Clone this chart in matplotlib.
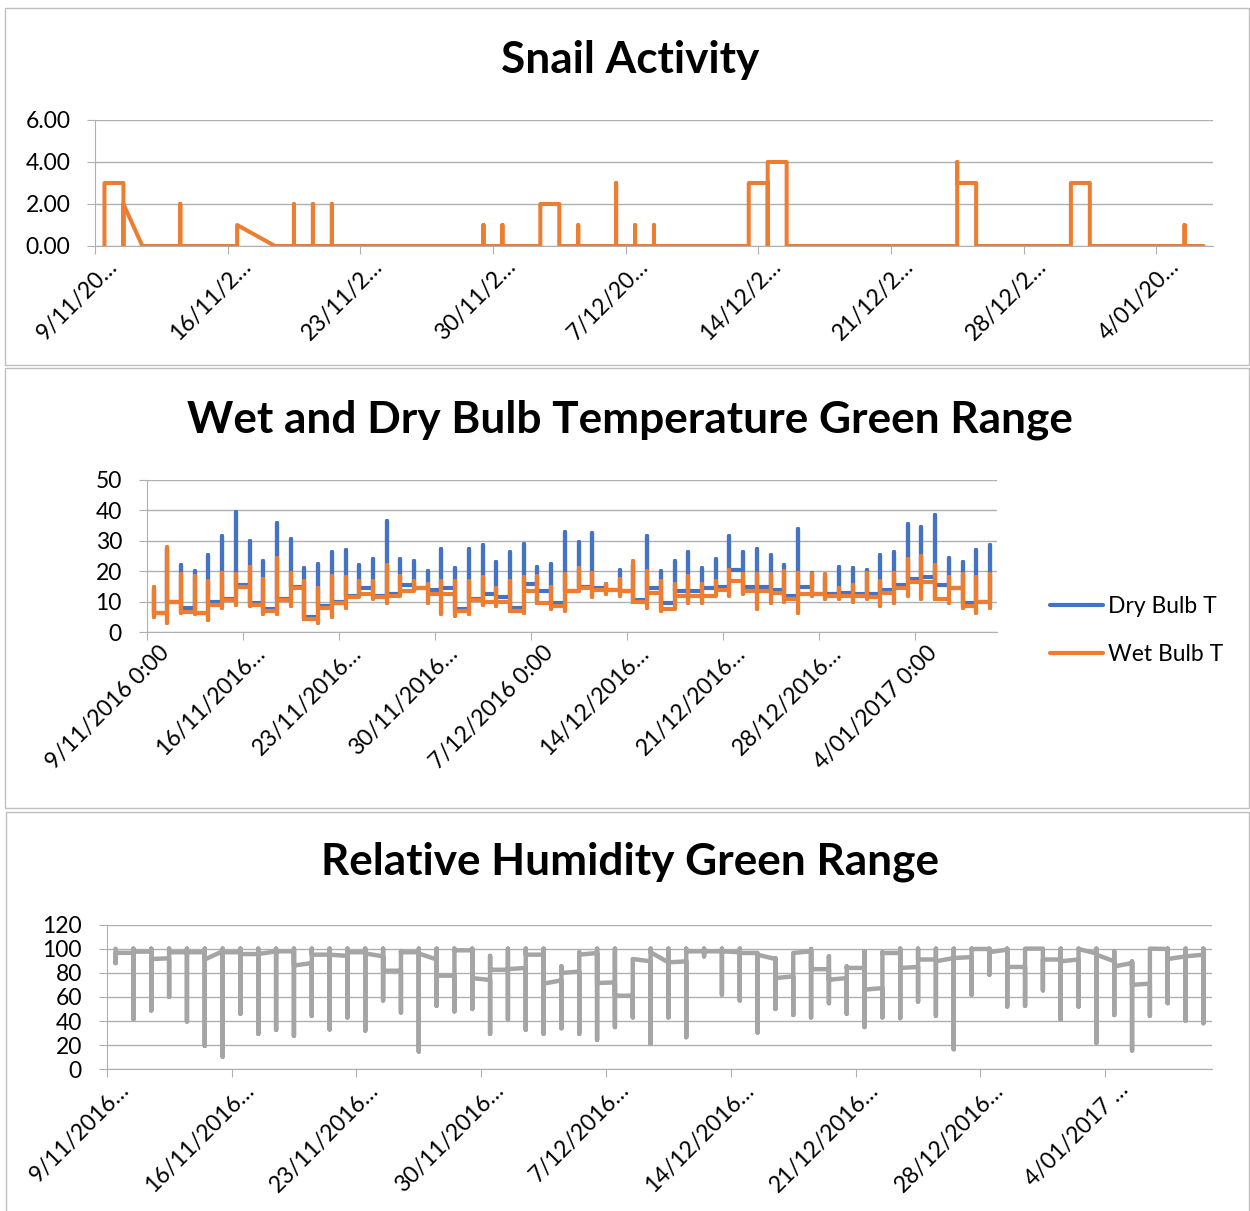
import numpy as np
import matplotlib.pyplot as plt
from matplotlib.patches import Rectangle
from matplotlib.transforms import ScaledTranslation

plt.rcParams['font.family'] = ['Lato', 'DejaVu Sans']

ORANGE = '#ED7D31'
BLUE = '#4472C4'
GREY = '#A5A5A5'
GRID = '#B0B0B0'
W, H = 1250, 1211

# snail counts: several readings per day, day 0 = 9/11/2016
snail_day = [0, 0, 1, 1, 1, 2, 3, 4, 4, 4, 5, 6, 7, 7, 9,
             10, 10, 10, 11, 11, 11, 12, 12, 12, 13, 14, 15, 16, 17, 18, 19,
             20, 20, 20, 21, 21, 21, 22, 23, 23, 24, 24, 25, 25, 25, 26,
             27, 27, 27, 28, 28, 28, 29, 29, 29, 30, 31, 32, 33, 34, 34,
             35, 35, 35, 36, 36, 37, 38, 39, 40, 41, 42, 43, 44, 45, 45, 45,
             46, 46, 47, 48, 49, 50, 51, 51, 52, 52, 53, 54, 55, 56, 57, 57, 57, 58]
snail_count = [0, 3, 3, 0, 2, 0, 0, 0, 2, 0, 0, 0, 0, 1, 0,
               0, 2, 0, 0, 2, 0, 0, 2, 0, 0, 0, 0, 0, 0, 0, 0,
               0, 1, 0, 0, 1, 0, 0, 0, 2, 2, 0, 0, 1, 0, 0,
               0, 3, 0, 0, 1, 0, 0, 1, 0, 0, 0, 0, 0, 0, 3,
               3, 0, 4, 4, 0, 0, 0, 0, 0, 0, 0, 0, 0, 0, 4, 3,
               3, 0, 0, 0, 0, 0, 0, 3, 3, 0, 0, 0, 0, 0, 0, 1, 0, 0]
snail_labels = ['9/11/20…', '16/11/2…', '23/11/2…', '30/11/2…', '7/12/20…',
                '14/12/2…', '21/12/2…', '28/12/2…', '4/01/20…']

# daily temperatures (deg C), one entry per day from 9/11/2016
dry_max = [14, 27.5, 22, 20, 25.5, 31.5, 39.5, 30, 23.5, 36,
           30.5, 21, 22.5, 26.5, 27, 22, 24, 36.5, 24, 23.5,
           20, 27.5, 21, 27.5, 28.5, 23, 26.5, 29, 21.5, 22.5,
           33, 29.5, 32.5, 16, 20.5, 22, 31.5, 20, 23.5, 26.5,
           21, 24, 31.5, 26.5, 27.5, 25.5, 22, 34, 19.5, 18,
           21.5, 21, 20.5, 25.5, 26.5, 35.5, 34.5, 38.5, 24.5, 23,
           27, 28.5]
dry_end = [6.5, 10, 8, 6.5, 10, 11, 15.5, 9.5, 7.5, 11,
           15, 5, 8.5, 10, 12, 14.5, 12, 12.5, 15.5, 14.5,
           14, 14.5, 7.5, 11, 12.5, 11.5, 8, 16, 13.5, 9.5,
           13.5, 15, 14.5, 14, 13.5, 10.5, 14.5, 9.5, 13.5, 13.5,
           14.5, 15, 20.5, 15, 15, 14, 12, 15, 12.5, 12.5,
           13, 12.5, 12.5, 14, 15.5, 17.5, 18, 15.5, 14.5, 9.5,
           10, 11]
wet_max = [15, 28, 19, 18.5, 17, 19.5, 19, 21.5, 17.5, 24.5,
           19.5, 17, 14.5, 18.5, 18, 17, 17, 22, 18.5, 17,
           16, 17, 17, 17, 18, 14.5, 17, 18, 18.5, 15,
           19, 21, 19.5, 16, 17.5, 23.5, 20, 17, 16, 18.5,
           16, 17, 20.5, 19, 19, 19, 20, 19.5, 19, 19,
           14.5, 15.5, 19.5, 17, 19.5, 24, 25, 22, 18, 19,
           18, 19]
wet_min = [5, 3, 6.5, 6, 4, 8, 9, 8.5, 6, 6,
           8.5, 4.5, 3, 5, 8, 11.5, 11, 9.5, 12.5, 13.5,
           9.5, 6, 5.5, 6, 9, 8.5, 7, 6.5, 9.5, 7.5,
           7, 13.5, 11.5, 12.5, 12, 10, 8, 7, 12, 9.5,
           9.5, 12, 12, 12.5, 7.5, 9.5, 10, 6.5, 12, 11,
           11, 10, 11, 8.5, 9.5, 12, 11, 11, 9.5, 8,
           6.5, 8]
wet_end = [6.2, 10, 6.8, 6.2, 9, 10.5, 15, 9, 7, 10.5,
           14.5, 4.5, 8, 9.5, 11.5, 12.5, 11.5, 12, 13.5, 14.5,
           12.5, 12.5, 7, 10.5, 10, 10, 7, 13.5, 9.7, 8.5,
           13.5, 14.5, 14, 14, 13.5, 10, 13, 7.5, 12, 12,
           12, 14, 17, 13.5, 13.5, 13, 11, 12.5, 12.5, 12,
           12, 12, 11.5, 13, 14.5, 16.5, 16.5, 11, 14.5, 8.5,
           10, 10]
temp_labels = ['9/11/2016 0:00', '16/11/2016…', '23/11/2016…', '30/11/2016…',
               '7/12/2016 0:00', '14/12/2016…', '21/12/2016…', '28/12/2016…',
               '4/01/2017 0:00']

# daily relative humidity (%): first reading, min, max, last reading
rh_first = [100, 96.5, 97.5, 92, 97, 97, 97.8, 97, 95.5, 97.8,
            97.8, 88, 95, 94, 97, 93.6, 81.7, 97, 91, 77.6,
            98.6, 74, 82.5, 84, 95, 73.7, 81, 96.4, 72, 61,
            89.5, 88.6, 89.5, 97.8, 97.8, 97, 96.4, 91.4, 77, 97.8,
            83, 75.6, 84, 67.3, 96.4, 84.8, 91, 92.2, 93, 99.7,
            99.2, 84.8, 100, 91, 91, 96, 89.5, 88, 71, 99.7,
            93.6, 95]
rh_min = [88, 41.5, 48.7, 60, 39.6, 19.4, 10.5, 46, 29.4, 32.7,
          27.7, 44.3, 33, 43, 32, 57, 47, 14.7, 52.6, 48,
          50, 29.4, 41.5, 32.7, 29.4, 34, 29.4, 24.4, 35, 43,
          21, 43, 26.6, 93.6, 61.8, 57, 30.5, 50, 45, 43,
          54.8, 46, 35, 43, 42.4, 56, 44.3, 16.6, 61.8, 78.4,
          52, 52.6, 65.4, 41, 52, 22, 45, 15.5, 44.3, 54.8,
          40.4, 38.2]
rh_max = [100, 100, 100, 100, 100, 100, 100, 100, 100, 100,
          100, 100, 100, 100, 100, 100, 98, 100, 100, 100,
          100, 94, 100, 100, 100, 85.3, 97, 100, 100, 91.4,
          100, 100, 100, 100, 100, 100, 96.4, 92, 96.4, 99.7,
          93.6, 85.3, 97.8, 97, 100, 100, 100, 100, 100, 100,
          100, 100, 100, 100, 100, 100, 97.8, 89.5, 100, 100,
          100, 100]
rh_last = [96.5, 97.5, 91.4, 97, 97, 91, 97, 95.5, 95.5, 97.8,
           86, 95, 95, 97, 96, 81.7, 97, 96, 77.6, 98.6,
           75.6, 82.5, 83, 95, 71, 79.8, 95, 71.5, 61, 91.4,
           97, 88.6, 97.8, 97.8, 97.8, 96.4, 95, 75.6, 96.4, 83,
           74.2, 84, 66, 96.4, 84, 91, 89.5, 92.2, 99.7, 97,
           84.8, 100, 91, 89.5, 99.7, 95, 85.3, 70, 100, 91.4,
           93.6, 95]
rh_labels = ['9/11/2016…', '16/11/2016…', '23/11/2016…', '30/11/2016…',
             '7/12/2016…', '14/12/2016…', '21/12/2016…', '28/12/2016…',
             '4/01/2017 …']


def day_trace(*columns):
    # all readings of one day sit on the same date position
    xs, ys = [], []
    for d, vals in enumerate(zip(*columns)):
        xs += [d + 0.5] * len(vals)
        ys += list(vals)
    return xs, ys


def px_axes(left, top, right, bottom):
    return [left / W, 1 - bottom / H, (right - left) / W, (bottom - top) / H]


fig = plt.figure(figsize=(W / 100, H / 100), dpi=100)

# chart frames
for x0, y0, x1, y1 in [(5, 8, 1249, 365), (5, 368, 1249, 808), (6, 812, 1249, 1215)]:
    fig.add_artist(Rectangle((x0 / W, 1 - y1 / H), (x1 - x0) / W, (y1 - y0) / H,
                             transform=fig.transFigure, fill=False, ec='#BFBFBF', lw=1))

label_off = ScaledTranslation(24 / 100, -22 / 100, fig.dpi_scale_trans)


def style(ax, ndays, ymax, ystep, fmt, labels):
    ax.set_xlim(0, ndays)
    ax.set_ylim(0, ymax)
    yt = np.arange(0, ymax + ystep / 2, ystep)
    ax.set_yticks(yt)
    ax.set_yticklabels([fmt.format(v) for v in yt])
    ax.yaxis.grid(True, color=GRID, lw=1.0)
    ax.set_axisbelow(True)
    for s in ('top', 'right'):
        ax.spines[s].set_visible(False)
    for s in ('left', 'bottom'):
        ax.spines[s].set_color(GRID)
    ax.tick_params(axis='y', length=5.8, color=GRID, pad=12, labelsize=16.5)
    ax.set_xticks(range(0, ndays, 7))
    ax.tick_params(axis='x', length=5.8, color=GRID, labelbottom=False)
    for i, lab in enumerate(labels):
        ax.text(7 * i, 0, lab, transform=ax.get_xaxis_transform() + label_off,
                rotation=45, ha='right', va='baseline', rotation_mode='anchor',
                fontsize=16.5)


line_kw = dict(solid_joinstyle='round', solid_capstyle='round')

# Snail Activity
ax1 = fig.add_axes(px_axes(95, 120, 1213, 246))
ax1.plot([d + 0.5 for d in snail_day], snail_count, color=ORANGE, lw=2.9, **line_kw)
style(ax1, 59, 6, 2, '{:.2f}', snail_labels)

# Wet and Dry Bulb Temperature
ax2 = fig.add_axes(px_axes(146.7, 480, 996.8, 632.3))
dry_start = [dry_end[0]] + dry_end[:-1]
wet_start = [wet_end[0]] + wet_end[:-1]
dx, dy = day_trace(dry_start, dry_max, dry_end)
wx, wy = day_trace(wet_start, wet_min, wet_max, wet_end)
ax2.plot(dx, dy, color=BLUE, lw=3.0, label='Dry Bulb T', **line_kw)
ax2.plot(wx, wy, color=ORANGE, lw=3.0, label='Wet Bulb T', **line_kw)
style(ax2, 62, 50, 10, '{:.0f}', temp_labels)
ax2.legend(loc='upper left', bbox_to_anchor=(1050 / W, 1 - 596 / H),
           bbox_transform=fig.transFigure, frameon=False, fontsize=16.5,
           handlelength=2.3, handletextpad=0.22, labelspacing=1.2,
           borderpad=0, borderaxespad=0)

# Relative Humidity
ax3 = fig.add_axes(px_axes(106.7, 924.5, 1212.3, 1069.3))
hx, hy = day_trace(rh_first, rh_min, rh_max, rh_last)
ax3.plot(hx, hy, color=GREY, lw=3.2, **line_kw)
style(ax3, 62, 120, 20, '{:.0f}', rh_labels)

title_kw = dict(ha='center', va='center', fontsize=31.8, fontweight='bold')
fig.text(630 / W, 1 - 60 / H, 'Snail Activity', **title_kw)
fig.text(630 / W, 1 - 420 / H, 'Wet and Dry Bulb Temperature Green Range', **title_kw)
fig.text(630 / W, 1 - 862 / H, 'Relative Humidity Green Range', **title_kw)

fig.savefig('out.png', dpi=100)
